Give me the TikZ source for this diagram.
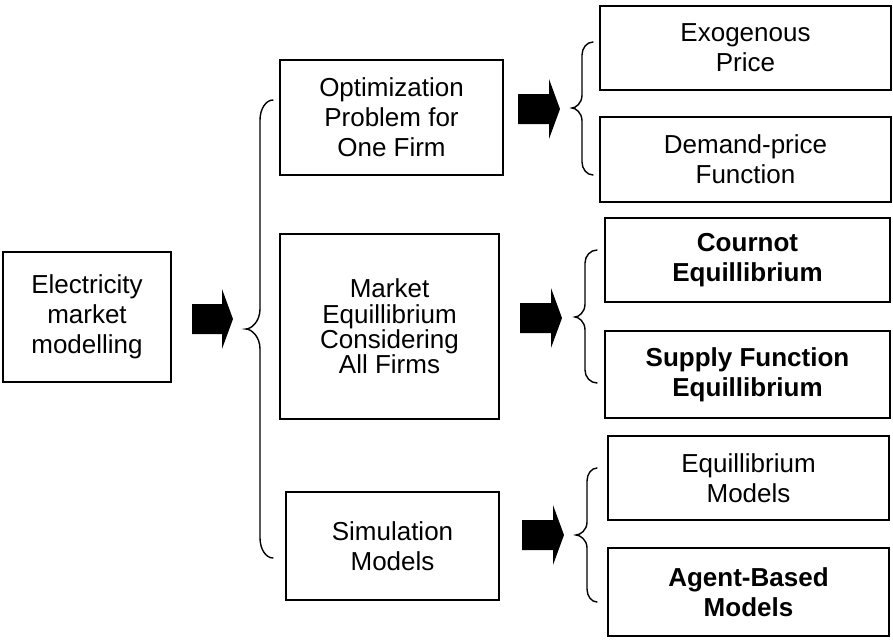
\documentclass[tikz,border=0pt]{standalone}
\usepackage{fontspec}
\setmainfont{Liberation Sans}

% Block arrow: start x, tip x, centre y
\newcommand\blockarrow[3]{%
  \fill[black] (#1,{#3-15}) -- ({#2-11},{#3-15}) -- ({#2-11},{#3-30}) -- (#2,#3)
    -- ({#2-11},{#3+30}) -- ({#2-11},{#3+15}) -- (#1,{#3+15}) -- cycle;}

% Left curly brace: end x, spine x, tip x, top y, middle y, bottom y, corner radius
\newcommand\curlybrace[7]{%
  \draw[bracestyle] (#1,#4)
    .. controls ({#2+0.45*(#1-#2)},#4) and (#2,{#4+0.45*#7}) .. (#2,{#4+#7})
    -- (#2,{#5-#7})
    .. controls (#2,{#5-0.35*#7}) and ({#3+0.35*(#2-#3)},#5) .. (#3,#5)
    .. controls ({#3+0.35*(#2-#3)},#5) and (#2,{#5+0.35*#7}) .. (#2,{#5+#7})
    -- (#2,{#6-#7})
    .. controls (#2,{#6-0.45*#7}) and ({#2+0.45*(#1-#2)},#6) .. (#1,#6);}

\begin{document}
\begin{tikzpicture}[x=1pt,y=-1pt,
  box/.style={draw, line width=1.6pt, align=center, inner sep=0pt,
    font=\fontsize{26}{30}\selectfont},
  boldbox/.style={box, line width=2.6pt,
    font=\fontsize{26}{30}\selectfont\bfseries},
  bracestyle/.style={line width=1.4pt, line cap=round}]

\useasboundingbox (0,0) rectangle (893,640);

% root
\node[box, minimum width=168pt, minimum height=130pt] (elec) at (87,317)
  {Electricity\\market\\modelling};

% approaches
\node[box, minimum width=223pt, minimum height=115pt] (opt) at (391.5,117.5)
  {Optimization\\Problem for\\One Firm};
\node[box, minimum width=219pt, minimum height=185pt,
  font=\fontsize{26}{25.3}\selectfont] (mkt) at (389.5,326.5)
  {Market\\Equillibrium\\Considering\\All Firms};
\node[box, minimum width=213pt, minimum height=108pt] (sim) at (392.5,546)
  {Simulation\\Models};

% model types
\node[box, minimum width=291pt, minimum height=84pt] (exo) at (745.5,48)
  {Exogenous\\Price};
\node[box, minimum width=291pt, minimum height=85pt] (dem) at (745.5,159.5)
  {Demand-price\\Function};
\node[boldbox, minimum width=285pt, minimum height=84pt] (cou) at (747.5,260)
  {Cournot\\Equillibrium};
\node[boldbox, minimum width=285pt, minimum height=87pt] (sup) at (747.5,374.5)
  {Supply Function\\Equillibrium};
\node[box, minimum width=281pt, minimum height=84pt] (eqm) at (748.5,478)
  {Equillibrium\\Models};
\node[boldbox, minimum width=281pt, minimum height=88pt] (agt) at (748.5,592)
  {Agent-Based\\Models};

% block arrows
\blockarrow{192}{233}{319}
\blockarrow{518}{560}{109}
\blockarrow{520}{562}{318}
\blockarrow{522}{564}{535}

% braces
\curlybrace{273}{260}{246}{100}{329}{558}{20}
\curlybrace{593}{582}{572}{42}{108}{175}{13}
\curlybrace{597}{585}{575}{250}{317}{383}{13}
\curlybrace{597}{587}{576}{468}{535}{602}{13}

\end{tikzpicture}
\end{document}
